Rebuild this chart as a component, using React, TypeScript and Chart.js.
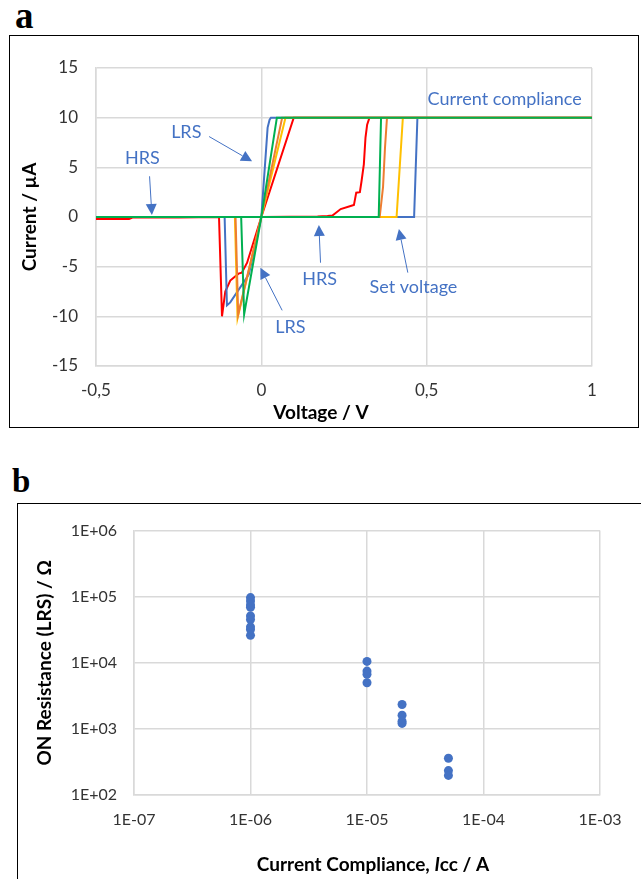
import React, { useEffect, useRef } from "react";
import { Chart, registerables } from "chart.js";
Chart.register(...registerables);

const FONT = "Lato, 'Open Sans', sans-serif";
const BLUE = "#4472C4";
const GRID = "#D9D9D9";
const TICK = "#333333";

// ---- Panel a: I–V sweeps (voltage in V, current in µA), sweep 0 → 1 → 0 → −0.5 → 0
const redV = [0, 0.17, 0.2, 0.215, 0.24, 0.27, 0.28, 0.287, 0.298, 0.303, 0.31, 0.315, 0.32, 0.327, 1, 0.098, 0, -0.043, -0.059, -0.069, -0.094, -0.109, -0.119, -0.128, -0.25, -0.39, -0.4, -0.5, -0.42, -0.4, 0];
const redI = [0, 0.05, 0.1, 0.15, 0.8, 1.1, 1.2, 2.45, 2.5, 3.6, 5.3, 8, 9.3, 10, 10, 10, 0, -4.6, -5.6, -5.7, -6.4, -7.5, -10, 0, -0.05, -0.05, -0.2, -0.2, -0.15, 0, 0];
const blueV = [0, 0.462, 0.472, 1, 0.029, 0.025, 0.019, 0, -0.038, -0.094, -0.104, -0.111, -0.5, 0];
const blueI = [0, 0, 10, 10, 10, 9.8, 9, 0, -5.8, -8.6, -8.9, 0, 0, 0];
const yellowV = [0, 0.409, 0.428, 1, 0.073, 0, -0.072, -0.08, -0.5, 0];
const yellowI = [0, 0, 10, 10, 10, 0, -10.2, 0, 0, 0];
const orangeV = [0, 0.358, 0.368, 0.374, 0.38, 1, 0.063, 0, -0.07, -0.078, -0.5, 0];
const orangeI = [0, 0, 3, 7, 10, 10, 10, 0, -9.8, 0, 0, 0];
const greenV = [0, 0.355, 0.362, 1, 0.047, 0, -0.052, -0.061, -0.5, 0];
const greenI = [0, 0, 10, 10, 10, 0, -9.8, 0, 0, 0];

const xTicksA = [-0.5, 0, 0.5, 1];
const yTicksA = [-15, -10, -5, 0, 5, 10, 15];

// annotation texts (voltage, current)
const notesA = [
  { text: "Current compliance", v: 0.736, i: 11.9 },
  { text: "LRS", v: -0.227, i: 8.5 },
  { text: "HRS", v: -0.36, i: 5.9 },
  { text: "HRS", v: 0.176, i: -6.3 },
  { text: "Set voltage", v: 0.46, i: -7.1 },
  { text: "LRS", v: 0.088, i: -11.1 },
];
// arrows: tail (v1,i1) -> tip (v2,i2)
const arrowsA = [
  { v1: -0.158, i1: 8.1, v2: -0.028, i2: 5.6 },
  { v1: -0.338, i1: 4.1, v2: -0.331, i2: 0.2 },
  { v1: 0.179, i1: -4.6, v2: 0.174, i2: -0.8 },
  { v1: 0.443, i1: -5.6, v2: 0.416, i2: -1.2 },
  { v1: 0.063, i1: -9.4, v2: -0.003, i2: -5.1 },
];

// ---- Panel b: ON resistance vs current compliance
const iccValues = [1e-6, 1e-6, 1e-6, 1e-6, 1e-6, 1e-6, 1e-6, 1e-6, 1e-6, 1e-5, 1e-5, 1e-5, 1e-5, 2e-5, 2e-5, 2e-5, 2e-5, 5e-5, 5e-5, 5e-5];
const ronValues = [97000, 86000, 75000, 69000, 51000, 45000, 35000, 32000, 26000, 10500, 7500, 6700, 5000, 2340, 1610, 1310, 1210, 360, 234, 198];
const xTicksB = [1e-7, 1e-6, 1e-5, 1e-4, 1e-3];
const yTicksB = [1e2, 1e3, 1e4, 1e5, 1e6];

const pts = (xs: number[], ys: number[]) => xs.map((x, k) => ({ x, y: ys[k] }));
const commaFmt = (v: number) => String(v).replace(".", ",");
const expFmt = (v: number) => {
  const e = Math.round(Math.log10(v));
  const a = Math.abs(e);
  return "1E" + (e < 0 ? "-" : "+") + (a < 10 ? "0" + a : String(a));
};

type Seg = { t: string; style?: string };
function drawRich(ctx: CanvasRenderingContext2D, segs: Seg[], cx: number, cy: number, size: number, rot: boolean) {
  ctx.save();
  ctx.translate(cx, cy);
  if (rot) ctx.rotate(-Math.PI / 2);
  ctx.fillStyle = "#000";
  ctx.textBaseline = "middle";
  ctx.textAlign = "left";
  let total = 0;
  const widths = segs.map((s) => {
    ctx.font = `${s.style || ""} bold ${size}px ${FONT}`;
    const w = ctx.measureText(s.t).width;
    total += w;
    return w;
  });
  let x = -total / 2;
  segs.forEach((s, k) => {
    ctx.font = `${s.style || ""} bold ${size}px ${FONT}`;
    ctx.fillText(s.t, x, 0);
    x += widths[k];
  });
  ctx.restore();
}

function axisBase(min: number, max: number, ticks: number[], fmt: (v: number) => string, type: string, pad: number, fitKey: "width" | "height", fitVal: number, size: number) {
  return {
    type,
    min,
    max,
    afterBuildTicks: (s: any) => {
      s.ticks = ticks.map((value) => ({ value }));
    },
    afterFit: (s: any) => {
      s[fitKey] = fitVal;
    },
    grid: { color: GRID, lineWidth: 1.5, drawTicks: false },
    border: { color: GRID, width: 1.5 },
    ticks: {
      padding: pad,
      color: TICK,
      autoSkip: false,
      maxRotation: 0,
      font: { family: FONT, size },
      callback: (v: any) => fmt(Number(v)),
    },
  };
}

function ChartA() {
  const ref = useRef<HTMLCanvasElement>(null);
  useEffect(() => {
    const mk = (label: string, xs: number[], ys: number[], color: string, order: number) => ({
      label,
      data: pts(xs, ys),
      showLine: true,
      borderColor: color,
      backgroundColor: color,
      borderWidth: 2,
      pointRadius: 0,
      tension: 0,
      order,
    });
    const overlay = {
      id: "overlayA",
      afterDatasetsDraw(chart: any) {
        const { ctx, scales } = chart;
        const sx = scales.x, sy = scales.y;
        ctx.save();
        ctx.fillStyle = BLUE;
        ctx.strokeStyle = BLUE;
        ctx.font = `18px ${FONT}`;
        ctx.textAlign = "center";
        ctx.textBaseline = "middle";
        notesA.forEach((n) => ctx.fillText(n.text, sx.getPixelForValue(n.v), sy.getPixelForValue(n.i)));
        arrowsA.forEach((a) => {
          const x1 = sx.getPixelForValue(a.v1), y1 = sy.getPixelForValue(a.i1);
          const x2 = sx.getPixelForValue(a.v2), y2 = sy.getPixelForValue(a.i2);
          const ang = Math.atan2(y2 - y1, x2 - x1);
          const hl = 11, hw = 5.5;
          const bx = x2 - hl * Math.cos(ang), by = y2 - hl * Math.sin(ang);
          ctx.lineWidth = 1;
          ctx.beginPath();
          ctx.moveTo(x1, y1);
          ctx.lineTo(bx, by);
          ctx.stroke();
          ctx.beginPath();
          ctx.moveTo(x2, y2);
          ctx.lineTo(bx + hw * Math.sin(ang), by - hw * Math.cos(ang));
          ctx.lineTo(bx - hw * Math.sin(ang), by + hw * Math.cos(ang));
          ctx.closePath();
          ctx.fill();
        });
        ctx.restore();
      },
      afterDraw(chart: any) {
        const ctx = chart.ctx;
        drawRich(ctx, [{ t: "Current / µA" }], 20, (chart.chartArea.top + chart.chartArea.bottom) / 2, 19, true);
        drawRich(ctx, [{ t: "Voltage / V" }], 311, 377, 19, false);
      },
    };
    const chart = new Chart(ref.current!, {
      type: "scatter",
      data: {
        datasets: [
          mk("green", greenV, greenI, "#00B050", 0),
          mk("orange", orangeV, orangeI, "#ED7D31", 1),
          mk("yellow", yellowV, yellowI, "#FFC000", 2),
          mk("blue", blueV, blueI, BLUE, 3),
          mk("red", redV, redI, "#FF0000", 4),
        ] as any,
      },
      options: {
        responsive: false,
        animation: false,
        devicePixelRatio: 1,
        layout: { padding: { top: 32, right: 46, left: 0, bottom: 0 } },
        plugins: { legend: { display: false }, tooltip: { enabled: false } },
        scales: {
          x: axisBase(-0.5, 1, xTicksA, commaFmt, "linear", 14, "height", 61, 17) as any,
          y: axisBase(-15, 15, yTicksA, commaFmt, "linear", 18, "width", 86, 17) as any,
        },
      },
      plugins: [overlay],
    });
    return () => chart.destroy();
  }, []);
  return <canvas ref={ref} width={628} height={391} style={{ display: "block" }} />;
}

function ChartB() {
  const ref = useRef<HTMLCanvasElement>(null);
  useEffect(() => {
    const overlay = {
      id: "overlayB",
      afterDraw(chart: any) {
        const ctx = chart.ctx;
        drawRich(ctx, [{ t: "ON Resistance (LRS) / Ω" }], 27, (chart.chartArea.top + chart.chartArea.bottom) / 2, 19, true);
        drawRich(ctx, [{ t: "Current Compliance, " }, { t: "I", style: "italic" }, { t: "cc / A" }], 355, 361, 19, false);
      },
    };
    const chart = new Chart(ref.current!, {
      type: "scatter",
      data: {
        datasets: [
          {
            label: "Ron",
            data: pts(iccValues, ronValues),
            backgroundColor: BLUE,
            borderColor: BLUE,
            pointRadius: 4.5,
            borderWidth: 0,
          },
        ] as any,
      },
      options: {
        responsive: false,
        animation: false,
        devicePixelRatio: 1,
        layout: { padding: { top: 21, right: 58, left: 0, bottom: 0 } },
        plugins: { legend: { display: false }, tooltip: { enabled: false } },
        scales: {
          x: axisBase(1e-7, 1e-3, xTicksB, expFmt, "logarithmic", 15, "height", 84, 16) as any,
          y: axisBase(1e2, 1e6, yTicksB, expFmt, "logarithmic", 17, "width", 116, 16) as any,
        },
      },
      plugins: [overlay],
    });
    return () => chart.destroy();
  }, []);
  return <canvas ref={ref} width={640} height={375} style={{ display: "block" }} />;
}

const panelLetter: React.CSSProperties = {
  position: "absolute",
  fontFamily: "'Liberation Serif', 'Times New Roman', serif",
  fontWeight: "bold",
  lineHeight: 1,
  color: "#000",
};

export default function App() {
  return (
    <div style={{ position: "absolute", left: 0, top: 0, width: 641, height: 879, overflow: "hidden", background: "#fff" }}>
      <div style={{ ...panelLetter, left: 15, top: -3, fontSize: 37 }}>a</div>
      <div style={{ position: "absolute", left: 9, top: 35, width: 628, height: 391, border: "1px solid #000" }}>
        <ChartA />
      </div>
      <div style={{ ...panelLetter, left: 12, top: 465, fontSize: 33 }}>b</div>
      <div style={{ position: "absolute", left: 17, top: 503, width: 640, height: 400, border: "1px solid #000" }}>
        <ChartB />
      </div>
    </div>
  );
}
